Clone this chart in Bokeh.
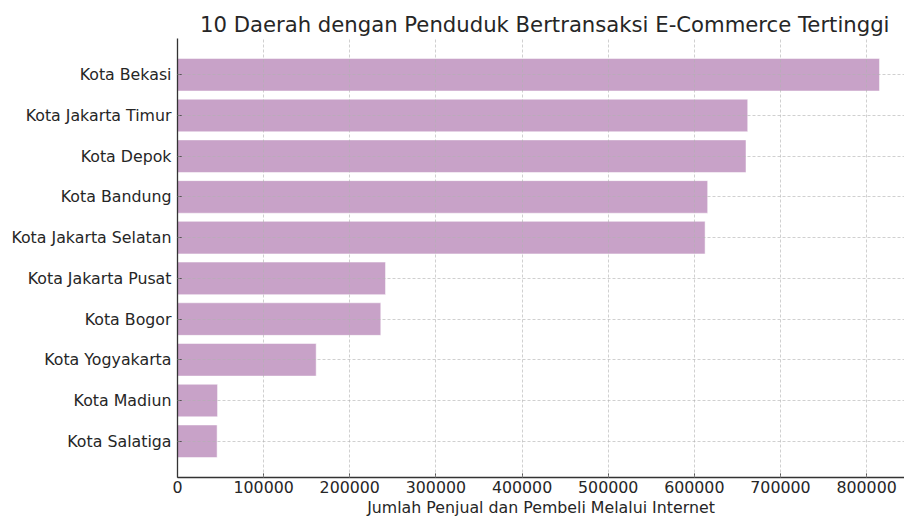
from bokeh.plotting import figure
from bokeh.models import FactorRange, Range1d, FixedTicker, BasicTickFormatter, Title
from bokeh.embed import file_html
from bokeh.resources import INLINE

# Data (top to bottom in the chart)
regions = ["Kota Bekasi", "Kota Jakarta Timur", "Kota Depok", "Kota Bandung",
           "Kota Jakarta Selatan", "Kota Jakarta Pusat", "Kota Bogor",
           "Kota Yogyakarta", "Kota Madiun", "Kota Salatiga"]
values = [815000, 662000, 660000, 615500, 612500, 241500, 236000, 161000, 46500, 46000]
x_ticks = [0, 100000, 200000, 300000, 400000, 500000, 600000, 700000, 800000]

title_text = "10 Daerah dengan Penduduk Bertransaksi E-Commerce Tertinggi"
x_label = "Jumlah Penjual dan Pembeli Melalui Internet"

FONT = "DejaVu Sans"
TXT = "#262626"

factors = list(reversed(regions))
p = figure(width=904, height=519, output_backend="svg", toolbar_location=None,
           y_range=FactorRange(factors=factors, range_padding=0.078, range_padding_units="percent"),
           x_range=Range1d(0, 844000),
           min_border_left=177, min_border_right=0, min_border_top=38, min_border_bottom=41)

p.title = Title(text=title_text, align="right", offset=15, text_font=FONT,
                text_font_size="21.2px", text_font_style="normal", text_color=TXT,
                standoff=4)

p.hbar(y=regions, right=values, left=0, height=0.8,
       fill_color="#C8A2C8", fill_alpha=1.0, line_color="white", line_alpha=0.5, line_width=1)

p.outline_line_color = None
p.background_fill_color = "white"
p.border_fill_color = "white"

for g in (p.xgrid, p.ygrid):
    g.grid_line_color = "#b0b0b0"
    g.grid_line_alpha = 0.6
    g.grid_line_dash = "3 2"
    g.grid_line_width = 1
    g.level = "overlay"

p.xaxis.ticker = FixedTicker(ticks=x_ticks)
p.xaxis.formatter = BasicTickFormatter(use_scientific=False)
p.xaxis.axis_label = x_label

for ax in (p.xaxis, p.yaxis):
    ax.axis_line_color = "#333333"
    ax.axis_line_width = 1.3
    ax.major_tick_in = 4
    ax.major_tick_out = 0
    ax.major_tick_line_color = "#333333"
    ax.minor_tick_line_color = None
    ax.major_label_text_font = FONT
    ax.major_label_text_font_size = "15.8px"
    ax.major_label_text_color = TXT
    ax.axis_label_text_font = FONT
    ax.axis_label_text_font_size = "15.8px"
    ax.axis_label_text_font_style = "normal"
    ax.axis_label_text_color = TXT

p.xaxis.major_label_standoff = 3
p.xaxis.axis_label_standoff = 2
p.yaxis.major_label_standoff = 6

open("out.html", "w").write(file_html(p, INLINE))
